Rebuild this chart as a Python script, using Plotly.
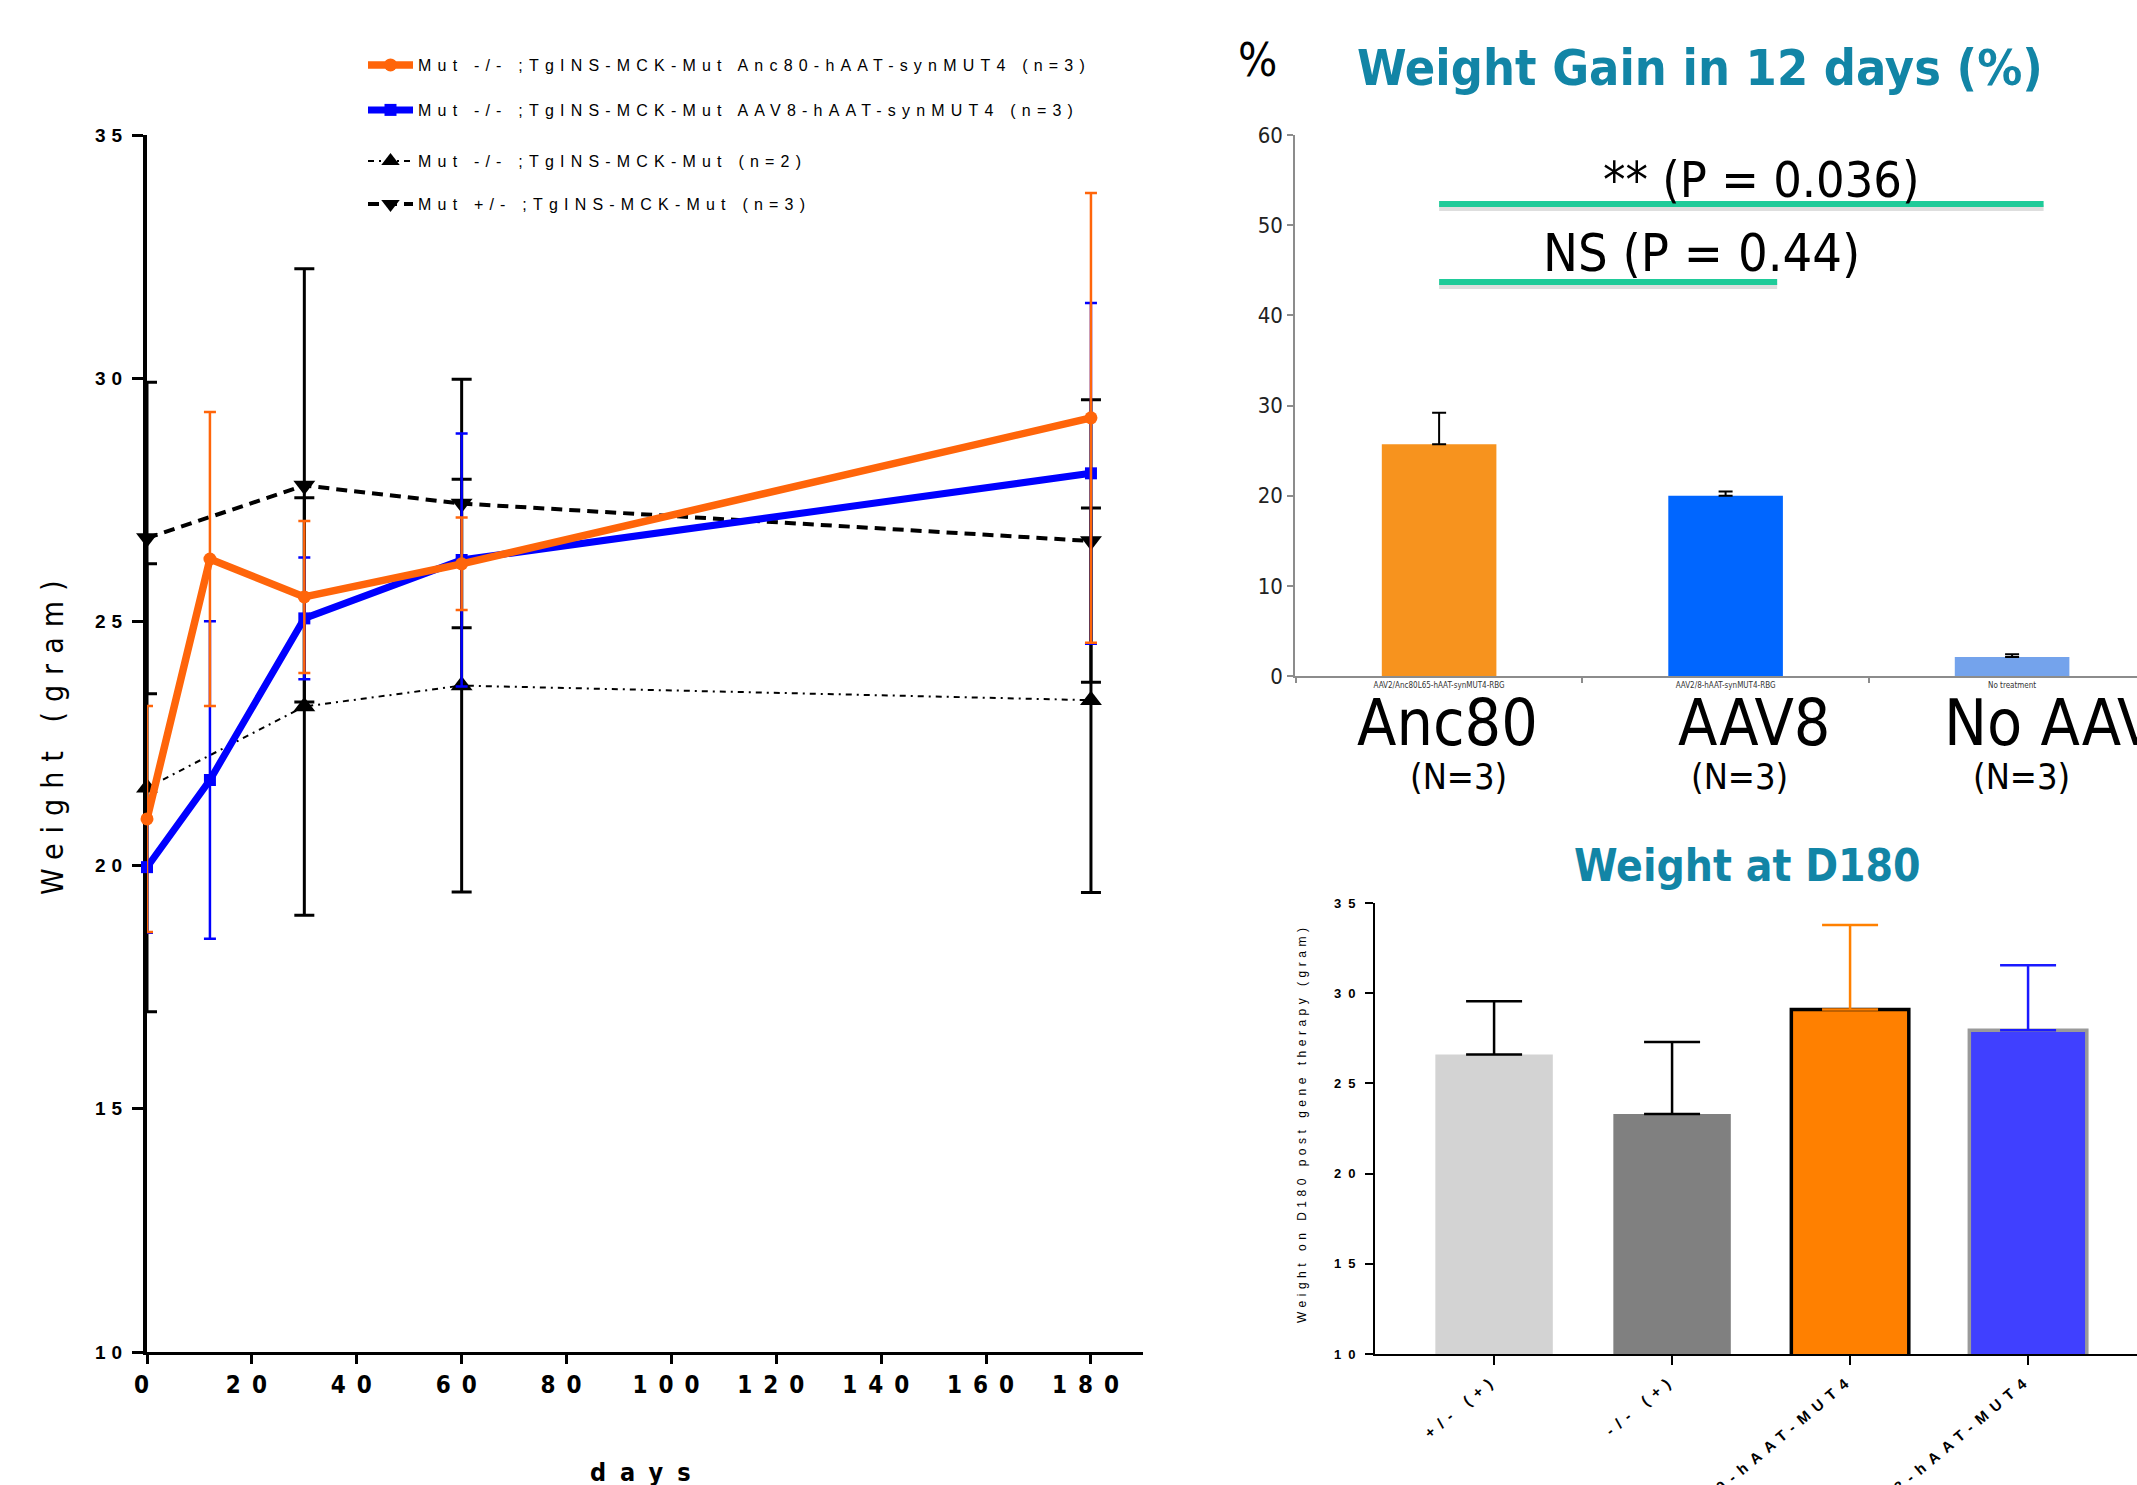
import plotly.graph_objects as go

# ---------------- data ----------------
days = [0, 12, 30, 60, 180]
anc80_mean = [20.95, 26.29, 25.51, 26.19, 29.19]
anc80_sd = [2.32, 3.02, 1.56, 0.95, 4.62]
aav8_mean = [19.96, 21.75, 25.07, 26.27, 28.05]
aav8_sd = [1.35, 3.26, 1.25, 2.60, 3.50]

ctrl_days = [0, 30, 60, 180]
ko_mean = [21.59, 23.26, 23.69, 23.39]
ko_sd = [4.60, 4.29, 4.24, 3.95]
het_mean = [26.72, 27.80, 27.43, 26.66]
het_sd = [3.20, 4.45, 2.55, 2.90]

series_names = [
    "Mut -/- ;TgINS-MCK-Mut Anc80-hAAT-synMUT4 (n=3)",
    "Mut -/- ;TgINS-MCK-Mut AAV8-hAAT-synMUT4 (n=3)",
    "Mut -/- ;TgINS-MCK-Mut (n=2)",
    "Mut +/- ;TgINS-MCK-Mut (n=3)",
]
x_ticks = [0, 20, 40, 60, 80, 100, 120, 140, 160, 180]
y_ticks = [10, 15, 20, 25, 30, 35]

gain_groups = ["AAV2/Anc80L65-hAAT-synMUT4-RBG", "AAV2/8-hAAT-synMUT4-RBG", "No treatment"]
gain_short = ["Anc80", "AAV8", "No AAV8"]
gain_n = ["(N=3)", "(N=3)", "(N=3)"]
gain_pct = [25.7, 20.0, 2.1]
gain_err = [3.5, 0.45, 0.3]
gain_ticks = [0, 10, 20, 30, 40, 50, 60]

stat_labels = ["** (P = 0.036)", "NS (P = 0.44)"]
stat_level = [52.35, 43.7]
stat_span = [(0.0, 2.11), (0.0, 1.18)]

d180_groups = ["+/- (+)", "-/- (+)", "Anc80-hAAT-MUT4", "AAV8-hAAT-MUT4"]
d180_mean = [26.6, 23.3, 29.1, 27.95]
d180_sd = [2.95, 4.0, 4.68, 3.6]

# ---------------- styling helpers ----------------
W, H = 2137, 1485
def px(x):
    return x / W
def py(y):
    return 1 - y / H
def sp(text, ls):
    return f'<span style="letter-spacing:{ls}px">{text}</span>'

NARROW = "DejaVu Sans Condensed, Liberation Sans Narrow, Arial Narrow, sans-serif"
SANS = "Liberation Sans, Arial, sans-serif"
TEAL = "#1285a6"
ORANGE = "#ff650a"
BLUE = "#0000ff"

fig = go.Figure()

# ---------------- left: weight over time ----------------
fig.add_trace(go.Scatter(
    x=ctrl_days, y=het_mean, name=sp(series_names[3], 6.2), legend="legend4",
    mode="lines+markers", cliponaxis=False,
    line=dict(color="black", width=4, dash="11px,7px"),
    marker=dict(symbol="triangle-down", size=19, color="black"),
    error_y=dict(type="data", array=het_sd, color="black", thickness=3, width=10),
    xaxis="x", yaxis="y"))
fig.add_trace(go.Scatter(
    x=ctrl_days, y=ko_mean, name=sp(series_names[2], 6.2), legend="legend3",
    mode="lines+markers", cliponaxis=False,
    line=dict(color="black", width=2, dash="6px,5px,2px,5px"),
    marker=dict(symbol="triangle-up", size=19, color="black"),
    error_y=dict(type="data", array=ko_sd, color="black", thickness=3, width=10),
    xaxis="x", yaxis="y"))
fig.add_trace(go.Scatter(
    x=days, y=aav8_mean, name=sp(series_names[1], 6.2), legend="legend2",
    mode="lines+markers", cliponaxis=False,
    line=dict(color=BLUE, width=7),
    marker=dict(symbol="square", size=12, color=BLUE),
    error_y=dict(type="data", array=aav8_sd, color=BLUE, thickness=2.5, width=6),
    xaxis="x", yaxis="y"))
fig.add_trace(go.Scatter(
    x=days, y=anc80_mean, name=sp(series_names[0], 6.2), legend="legend",
    mode="lines+markers", cliponaxis=False,
    line=dict(color=ORANGE, width=7.5),
    marker=dict(symbol="circle", size=13, color=ORANGE),
    error_y=dict(type="data", array=anc80_sd, color=ORANGE, thickness=2.5, width=6),
    xaxis="x", yaxis="y"))

# ---------------- top right: weight gain bars ----------------
fig.add_trace(go.Bar(
    x=gain_groups, y=gain_pct, width=0.4, showlegend=False,
    marker=dict(color=["#f7931e", "#0066ff", "#74a3ec"], line=dict(width=0)),
    error_y=dict(type="data", array=gain_err, arrayminus=[0, 0, 0], symmetric=False,
                 color="black", thickness=2, width=7),
    xaxis="x2", yaxis="y2"))

# ---------------- bottom right: weight at D180 ----------------
d180_fill = ["#d3d3d3", "#808080", "#ff8000", "#4040ff"]
d180_edge = ["#d3d3d3", "#808080", "black", "#9a9a9a"]
d180_edge_w = [0, 0, 3.5, 3.5]
d180_err_col = ["black", "black", "#ff8000", "#1a1aff"]
for i, g in enumerate(d180_groups):
    fig.add_trace(go.Bar(
        x=[g], y=[d180_mean[i]], width=0.66, showlegend=False,
        marker=dict(color=d180_fill[i], line=dict(color=d180_edge[i], width=d180_edge_w[i])),
        error_y=dict(type="data", array=[d180_sd[i]], arrayminus=[0], symmetric=False,
                     color=d180_err_col[i], thickness=2.5, width=28),
        xaxis="x3", yaxis="y3"))

# ---------------- shapes: significance bars ----------------
shapes = []
for (x0, x1), lvl in zip(stat_span, stat_level):
    shapes.append(dict(type="line", xref="x2", yref="y2", x0=x0, x1=x1, y0=lvl - 0.45, y1=lvl - 0.45,
                       line=dict(color="rgba(0,0,0,0.13)", width=6), layer="above"))
    shapes.append(dict(type="line", xref="x2", yref="y2", x0=x0, x1=x1, y0=lvl, y1=lvl,
                       line=dict(color="#1fcb99", width=6), layer="above"))

# ---------------- annotations ----------------
def note(text, x, y, size, family=NARROW, color="black", weight="normal", angle=0, xanchor="center"):
    return dict(text=text, x=px(x), y=py(y), xref="paper", yref="paper", xanchor=xanchor,
                yanchor="middle", textangle=angle, showarrow=False,
                font=dict(family=family, size=size, color=color, weight=weight))

ann = []
ann.append(note("Weight Gain in 12 days (%)", 1700, 68, 50, color=TEAL, weight="bold"))
ann.append(note("%", 1257, 60, 46))
ann.append(note(stat_labels[0], 1761, 180, 50))
ann.append(note(stat_labels[1], 1701, 253, 52))
for lab, xc, anc in zip(gain_short, [1447, 1754, 1942], ["center", "center", "left"]):
    ann.append(note(lab, xc, 723, 64, xanchor=anc))
for lab, xc in zip(gain_n, [1458, 1739, 2021]):
    ann.append(note(lab, xc, 776, 36))
ann.append(note("Weight at D180", 1747, 865, 44, color=TEAL, weight="bold"))
ann.append(note(sp("Weight (gram)", 10), 52, 733, 30, angle=-90))
ann.append(note(sp("days", 14), 647, 1472, 25, weight="bold"))
ann.append(note(sp("Weight on D180 post gene therapy (gram)", 4.5), 1302, 1124, 12, family=SANS, angle=-90))

legend_common = dict(xanchor="left", yanchor="middle", bgcolor="rgba(0,0,0,0)",
                     font=dict(family=SANS, size=16, color="black"), itemwidth=45)

fig.update_layout(
    width=W, height=H, margin=dict(l=0, r=0, t=0, b=0, autoexpand=False),
    paper_bgcolor="white", plot_bgcolor="rgba(0,0,0,0)",
    barmode="overlay", shapes=shapes, annotations=ann,
    legend=dict(x=px(363), y=py(65), **legend_common),
    legend2=dict(x=px(363), y=py(110), **legend_common),
    legend3=dict(x=px(363), y=py(161), **legend_common),
    legend4=dict(x=px(363), y=py(204), **legend_common),
    xaxis=dict(domain=[px(147), px(1143.4)], range=[0, 190], anchor="y", automargin=False,
               tickvals=x_ticks, ticktext=[sp(str(v), 11) for v in x_ticks],
               ticks="outside", ticklen=9, tickwidth=2.5, tickcolor="black",
               showline=True, linewidth=3, linecolor="black", showgrid=False, zeroline=False,
               layer="below traces",
               tickfont=dict(family=NARROW, size=24, color="black", weight="bold")),
    yaxis=dict(domain=[py(1352), py(135)], range=[10, 35], anchor="x", automargin=False,
               tickvals=y_ticks, ticktext=[sp(str(v), 6) for v in y_ticks],
               ticks="outside", ticklen=11, tickwidth=2.5, tickcolor="black",
               showline=True, linewidth=4, linecolor="black", showgrid=False, zeroline=False,
               layer="below traces",
               tickfont=dict(family=SANS, size=19, color="black", weight="bold")),
    xaxis2=dict(domain=[px(1295), 1], range=[-0.503, 2.436], anchor="y2", type="category",
                automargin=False,
                tickson="boundaries", ticks="outside", ticklen=5, tickwidth=1.5, tickcolor="#8c8c8c",
                showline=True, linewidth=2, linecolor="#8c8c8c", showgrid=False, zeroline=False,
                tickfont=dict(family=NARROW, size=8, color="#333")),
    yaxis2=dict(domain=[py(676), py(135)], range=[0, 60], anchor="x2", automargin=False,
                tickvals=gain_ticks, ticks="outside", ticklen=6, tickwidth=1.5, tickcolor="#8c8c8c",
                showline=True, linewidth=1.5, linecolor="#8c8c8c", showgrid=False, zeroline=False,
                tickfont=dict(family=NARROW, size=22, color="#222")),
    xaxis3=dict(domain=[px(1375), 1], range=[-0.669, 3.612], anchor="y3", type="category",
                automargin=False,
                ticks="outside", ticklen=9, tickwidth=2, tickcolor="black", tickangle=-40,
                tickvals=d180_groups, ticktext=[sp(g, 7) for g in d180_groups],
                showline=True, linewidth=2, linecolor="black", showgrid=False, zeroline=False,
                tickfont=dict(family=SANS, size=15, color="black", weight="bold")),
    yaxis3=dict(domain=[py(1354), py(903)], range=[10, 35], anchor="x3", automargin=False,
                tickvals=y_ticks, ticktext=[sp(str(v), 7) for v in y_ticks],
                ticks="outside", ticklen=8, tickwidth=2, tickcolor="black",
                showline=True, linewidth=2, linecolor="black", showgrid=False, zeroline=False,
                tickfont=dict(family=SANS, size=13, color="black", weight="bold")),
)

fig.write_html("out.html")
